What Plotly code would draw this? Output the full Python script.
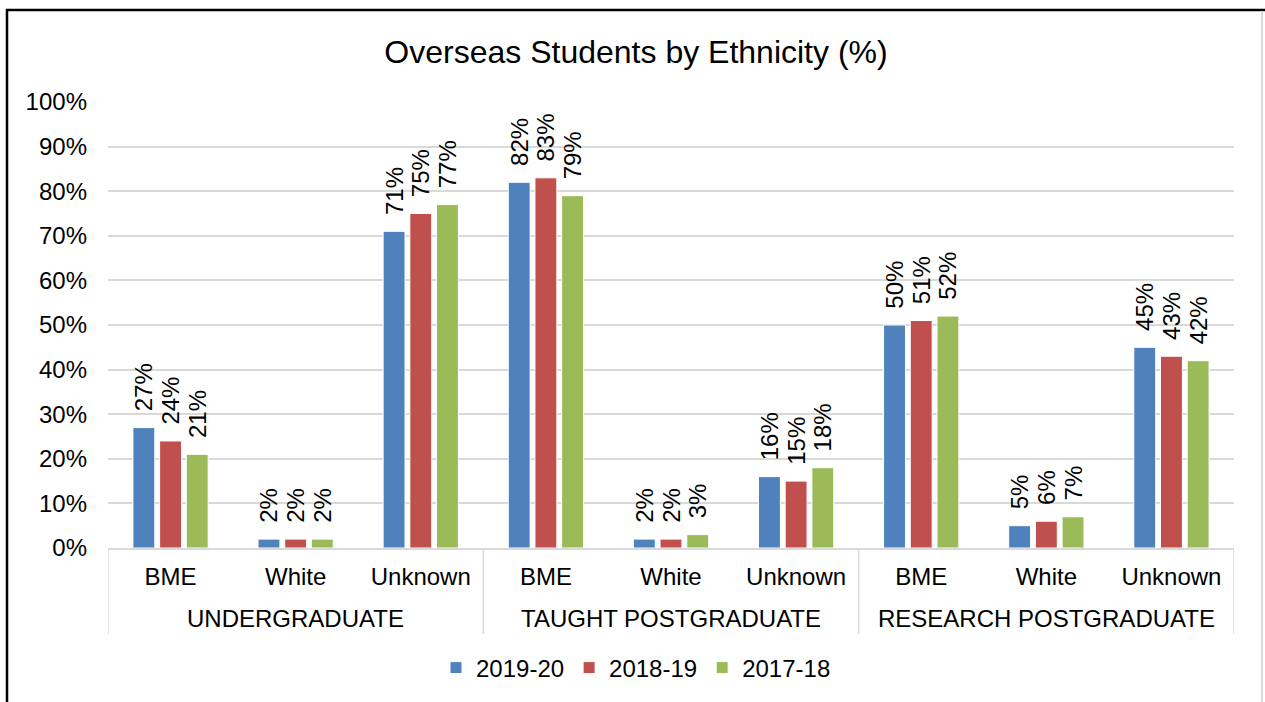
import plotly.graph_objects as go

group_names = ["UNDERGRADUATE", "TAUGHT POSTGRADUATE", "RESEARCH POSTGRADUATE"]
subcats = ["BME", "White", "Unknown"] * 3
positions = list(range(len(subcats)))

series_names = ["2019-20", "2018-19", "2017-18"]
v_2019_20 = [27, 2, 71, 82, 2, 16, 50, 5, 45]
v_2018_19 = [24, 2, 75, 83, 2, 15, 51, 6, 43]
v_2017_18 = [21, 2, 77, 79, 3, 18, 52, 7, 42]
colors = ["#4F81BD", "#C0504D", "#9BBB59"]

y_ticks = list(range(0, 101, 10))
y_ticktext = [f"{v}%" for v in y_ticks]

W, H = 1265, 702
L, R, T, B = 108, 31, 102, 154
pw, ph = W - L - R, H - T - B

def px(x):
    return (x - L) / pw

def py(y):
    return (H - B - y) / ph

FONT = "Arial, Liberation Sans, sans-serif"
FS = 24

fig = go.Figure()
for name, vals, col in zip(series_names, [v_2019_20, v_2018_19, v_2017_18], colors):
    fig.add_trace(go.Bar(
        name=name,
        x=positions,
        y=vals,
        marker=dict(color=col, line=dict(color="white", width=1)),
        text=[f"\u00a0\u00a0{v}%" for v in vals],
        textposition="outside",
        textangle=-90,
        textfont=dict(family=FONT, size=FS, color="#000000"),
        constraintext="none",
        cliponaxis=False,
        hoverinfo="skip",
    ))

fig.update_layout(
    width=W, height=H,
    margin=dict(l=L, r=R, t=T, b=B),
    paper_bgcolor="white", plot_bgcolor="white",
    barmode="group", bargap=0.36, bargroupgap=0.18,
    font=dict(family=FONT, size=FS, color="#000000"),
    title=dict(text="Overseas Students by Ethnicity (%)", x=636 / W, xanchor="center",
               y=1 - 52 / H, yanchor="middle", font=dict(size=32, color="#000000")),
    legend=dict(orientation="h", x=px(636), xanchor="center", y=py(668), yanchor="middle",
                font=dict(size=FS), itemwidth=30, traceorder="normal"),
    showlegend=True,
)
fig.update_yaxes(
    range=[0, 100], tickmode="array", tickvals=y_ticks, ticktext=y_ticktext,
    showgrid=True, gridcolor="#D9D9D9", gridwidth=1.5,
    zeroline=False, showline=False, ticks="", ticklabelstandoff=20,
    tickfont=dict(size=FS, color="#000000"),
)
fig.update_xaxes(
    range=[-0.5, len(subcats) - 0.5],
    tickmode="array", tickvals=positions, ticktext=subcats,
    showline=True, linecolor="#D9D9D9", linewidth=1.5,
    showgrid=False, zeroline=False, ticks="", ticklabelstandoff=6,
    tickfont=dict(size=FS, color="#000000"),
)

# group labels
for i, g in enumerate(group_names):
    fig.add_annotation(x=3 * i + 1, xref="x", y=py(618), yref="paper", text=g,
                       showarrow=False, xanchor="center", yanchor="middle",
                       font=dict(size=FS, color="#000000"))

# group dividers
for xd in [-0.5, 2.5, 5.5, 8.5]:
    fig.add_shape(type="line", xref="x", yref="paper", x0=xd, x1=xd, y0=0, y1=py(634),
                  line=dict(color="#D9D9D9", width=1.5))

# chart border
fig.add_shape(type="line", xref="paper", yref="paper", x0=px(6), x1=px(1266), y0=py(10), y1=py(10),
              line=dict(color="black", width=2.5))
fig.add_shape(type="line", xref="paper", yref="paper", x0=px(7), x1=px(7), y0=py(9), y1=py(710),
              line=dict(color="black", width=2.5))
fig.add_shape(type="line", xref="paper", yref="paper", x0=px(1262), x1=px(1262), y0=py(11), y1=py(710),
              line=dict(color="#D9D9D9", width=2))

fig.write_html("out.html", config={"displayModeBar": False},
               post_script="document.body.style.margin='0';document.body.style.overflow='hidden';")
